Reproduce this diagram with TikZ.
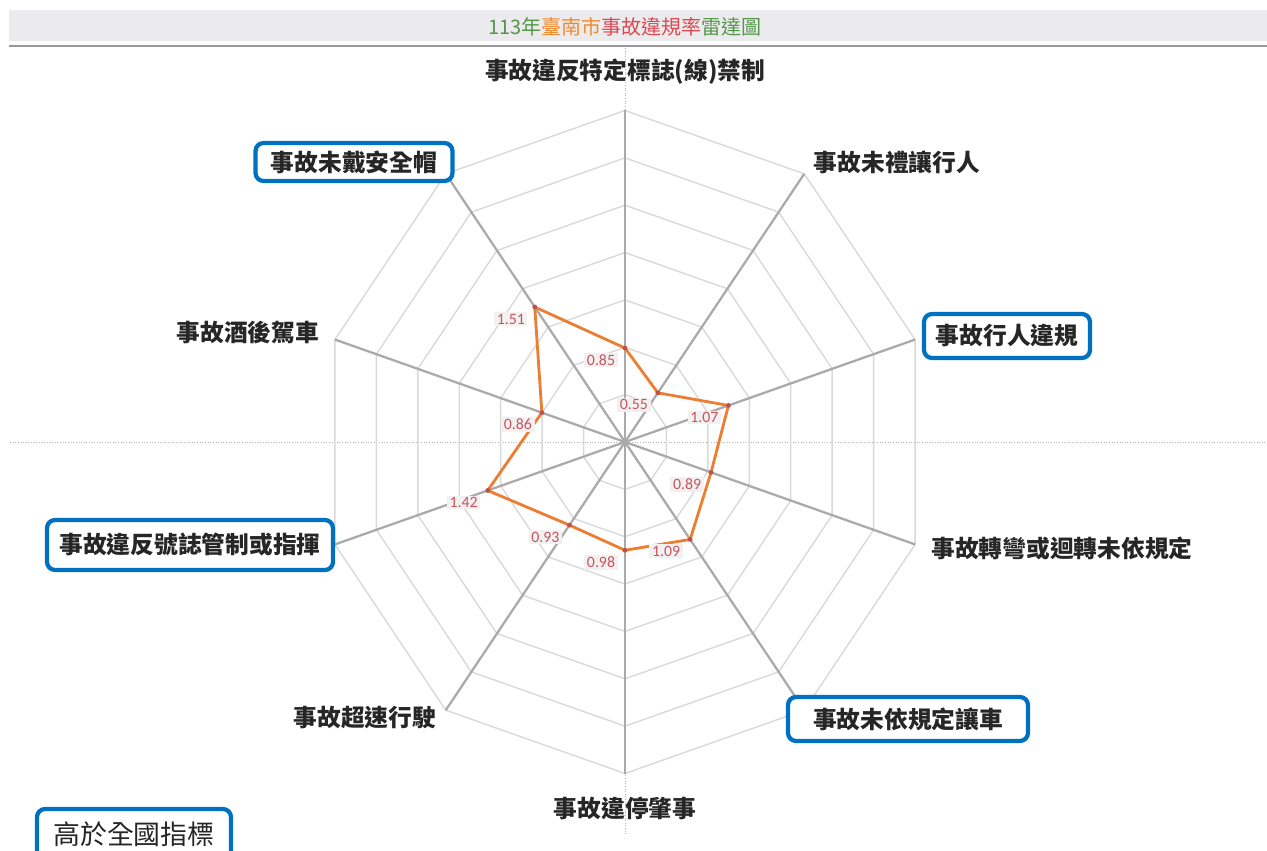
\documentclass[tikz,border=0pt]{standalone}
\usepackage{fontspec}
\setmainfont{Noto Sans CJK TC}
\newfontfamily\numfont{Carlito}
\definecolor{spokegray}{RGB}{170,170,170}
\definecolor{ringgray}{RGB}{217,217,217}
\definecolor{lineorange}{RGB}{237,125,49}
\definecolor{dotred}{RGB}{192,80,77}
\definecolor{valred}{RGB}{200,85,95}
\definecolor{hlblue}{RGB}{0,112,192}
\definecolor{titlegreen}{RGB}{84,150,72}
\definecolor{titleorange}{RGB}{240,138,48}
\definecolor{titlered}{RGB}{222,72,82}
\definecolor{barfill}{RGB}{235,235,237}
\definecolor{labelfill}{RGB}{242,240,240}
\tikzset{
  axislabel/.style={font=\fontsize{13.5pt}{16pt}\selectfont\bfseries, text=black!85, inner sep=0pt},
  hilite/.style={axislabel, draw=hlblue, line width=2.4pt, rounded corners=0.16cm, fill=white},
  vallabel/.style={font=\numfont\fontsize{9pt}{10pt}\selectfont, text=valred, fill=labelfill, inner xsep=1.5pt, inner ysep=1pt},
  spoke/.style={draw=spokegray, line width=1.3pt},
  ring/.style={draw=ringgray, line width=0.8pt},
  dataline/.style={draw=lineorange, line width=1.6pt, line join=round},
  dotmark/.style={fill=dotred},
  crossline/.style={draw=black!30, densely dotted, line width=0.5pt}
}
\begin{document}
\begin{tikzpicture}[x=0.02cm, y=0.02cm]
  \useasboundingbox (-625,-409) rectangle (642,442);
  \clip (-625,-409) rectangle (642,442);
  \fill[barfill] (-616,432) rectangle (642,401);
  \draw[black!40, line width=0.6pt] (-616,396) -- (642,396);
  \node[font=\fontsize{11.4pt}{14pt}\selectfont] (title) at (0,415)
    {\textcolor{titlegreen}{113年}\textcolor{titleorange}{臺南市}\textcolor{titlered}{事故違規率}\textcolor{titlegreen}{雷達圖}};
  \draw[crossline] (0,394) -- (0,-393);
  \draw[crossline] (-615,0) -- (642,0);
  \begin{scope}[xscale=101.66, yscale=110.5]
    \foreach \k in {1,...,7} {
      \pgfmathsetmacro\rr{3*\k/7}
      \draw[ring] (90:\rr) \foreach \a in {54,18,...,-234} { -- (\a:\rr) } -- cycle;
    }
    \foreach \a [count=\i from 0] in {90,54,...,-234}
      \draw[spoke] (0,0) -- (\a:3) coordinate (a\i);
    \foreach \v [count=\i from 0] in {0.85,0.55,1.07,0.89,1.09,0.98,0.93,1.42,0.86,1.51}
      \coordinate (p\i) at ({90-36*\i}:\v);
  \end{scope}
  \draw[dataline] (p0) \foreach \i in {1,...,9} { -- (p\i) } -- cycle;
  \foreach \i in {0,...,9}
    \fill[dotmark] (p\i) circle (2.4);
  \foreach \v [count=\i from 0] in {0.85,0.55,1.07,0.89,1.09,0.98,0.93,1.42,0.86,1.51}
    \path (p\i) ++(-24,-12) node[vallabel] (v\i) {\v};
  \node[axislabel] (lbl0) at (0,370) {事故違反特定標誌(線)禁制};
  \node[axislabel] (lbl1) at (272,280) {事故未禮讓行人};
  \node[hilite, minimum width=3.32cm, minimum height=0.88cm] (lbl2) at (382,106) {事故行人違規};
  \node[axislabel] (lbl3) at (437,-106) {事故轉彎或迴轉未依規定};
  \node[hilite, minimum width=4.8cm, minimum height=0.88cm] (lbl4) at (283,-277) {事故未依規定讓車};
  \node[axislabel] (lbl5) at (0,-366) {事故違停肇事};
  \node[axislabel] (lbl6) at (-260,-276) {事故超速行駛};
  \node[hilite, minimum width=5.72cm, minimum height=1.0cm] (lbl7) at (-435,-103) {事故違反號誌管制或指揮};
  \node[axislabel] (lbl8) at (-377,109) {事故酒後駕車};
  \node[hilite, minimum width=3.94cm, minimum height=0.76cm] (lbl9) at (-271,280) {事故未戴安全帽};
  \node[hilite, font=\fontsize{15.3pt}{18pt}\selectfont, minimum width=3.88cm, minimum height=1.0cm] (legend) at (-491,-392) {高於全國指標};
\end{tikzpicture}
\end{document}
